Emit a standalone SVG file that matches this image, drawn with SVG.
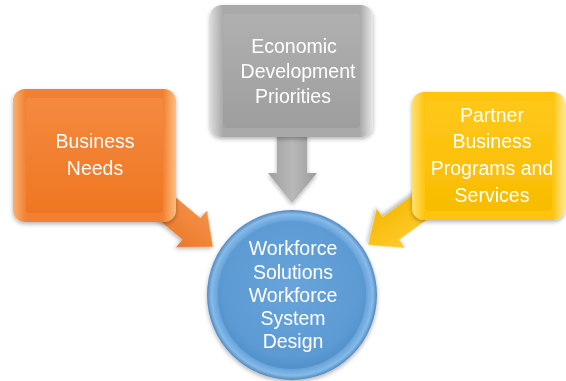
<svg xmlns="http://www.w3.org/2000/svg" width="566" height="381" viewBox="0 0 566 381">
<defs>
<style>
.t{font-family:"Liberation Sans",Arial,sans-serif;font-size:19.5px;fill:#ffffff;text-anchor:middle}
.tc{font-family:"Liberation Sans",Arial,sans-serif;font-size:19.5px;fill:#ffffff;text-anchor:middle}
</style>
<linearGradient id="gO" x1="0" y1="0" x2="0" y2="1"><stop offset="0" stop-color="#F48A40"/><stop offset="1" stop-color="#EF7622"/></linearGradient>
<linearGradient id="gOe" x1="0" y1="0" x2="1" y2="0"><stop offset="0" stop-color="#FBB070"/><stop offset="0.08" stop-color="#F28032"/><stop offset="0.92" stop-color="#F28032"/><stop offset="1" stop-color="#FBC080"/></linearGradient>
<linearGradient id="gG" x1="0" y1="0" x2="0" y2="1"><stop offset="0" stop-color="#B0B0B0"/><stop offset="1" stop-color="#9E9E9E"/></linearGradient>
<linearGradient id="gGe" x1="0" y1="0" x2="1" y2="0"><stop offset="0" stop-color="#DCDCDC"/><stop offset="0.08" stop-color="#A9A9A9"/><stop offset="0.92" stop-color="#A9A9A9"/><stop offset="1" stop-color="#E8E8E8"/></linearGradient>
<linearGradient id="gY" x1="0" y1="0" x2="0" y2="1"><stop offset="0" stop-color="#FFC81A"/><stop offset="1" stop-color="#F8BC00"/></linearGradient>
<linearGradient id="gYe" x1="0" y1="0" x2="1" y2="0"><stop offset="0" stop-color="#FFE070"/><stop offset="0.08" stop-color="#FFC410"/><stop offset="0.92" stop-color="#FFC410"/><stop offset="1" stop-color="#FFE890"/></linearGradient>
<radialGradient id="gB" cx="0.5" cy="0.45" r="0.55"><stop offset="0" stop-color="#68A4DB"/><stop offset="0.85" stop-color="#5C9AD3"/><stop offset="1" stop-color="#5290CA"/></radialGradient>
<radialGradient id="gBe" cx="0.5" cy="0.5" r="0.5"><stop offset="0.85" stop-color="#5D9CD6"/><stop offset="0.95" stop-color="#86BAE8"/><stop offset="1" stop-color="#5088C0"/></radialGradient>
<linearGradient id="aO" x1="0" y1="0" x2="0" y2="1"><stop offset="0" stop-color="#F4924A"/><stop offset="1" stop-color="#EC7828"/></linearGradient>
<linearGradient id="aG" x1="0" y1="0" x2="1" y2="0"><stop offset="0" stop-color="#A0A0A0"/><stop offset="0.5" stop-color="#B8B8B8"/><stop offset="1" stop-color="#9C9C9C"/></linearGradient>
<linearGradient id="aY" x1="0" y1="0" x2="0" y2="1"><stop offset="0" stop-color="#FFCC30"/><stop offset="1" stop-color="#F5B800"/></linearGradient>
<filter id="sh" x="-10%" y="-10%" width="120%" height="125%"><feDropShadow dx="0" dy="2" stdDeviation="2" flood-color="#000" flood-opacity="0.3"/></filter>
<path id="arr" d="M0,-14 L62,-14 L62,-24 L90,0 L62,24 L62,14 L0,14 Z"/>
</defs>
<g id="connectors">
<use href="#arr" fill="url(#aO)" transform="translate(144,189) rotate(40)" filter="url(#sh)"/>
<use href="#arr" fill="url(#aY)" transform="translate(441,192) rotate(144)" filter="url(#sh)"/>
<path d="M277,120 L307,120 L307,173 L317,173 L292,203 L268,173 L277,173 Z" fill="url(#aG)" filter="url(#sh)"/>
</g>
<g id="business-needs" filter="url(#sh)">
<rect x="13" y="89" width="163" height="133" rx="12" fill="url(#gOe)"/>
<rect x="26" y="98" width="137" height="115" rx="4" fill="url(#gO)"/>
<text class="t" x="95" y="148">Business</text>
<text class="t" x="95" y="175">Needs</text>
</g>
<g id="economic-development" filter="url(#sh)">
<rect x="210" y="5" width="163" height="132" rx="12" fill="url(#gGe)"/>
<rect x="223" y="14" width="137" height="114" rx="4" fill="url(#gG)"/>
<text class="t" x="294" y="53">Economic</text>
<text class="t" x="298" y="78">Development</text>
<text class="t" x="293" y="103">Priorities</text>
</g>
<g id="partner-business" filter="url(#sh)">
<rect x="412" y="92" width="153" height="128" rx="12" fill="url(#gYe)"/>
<rect x="425" y="101" width="127" height="110" rx="4" fill="url(#gY)"/>
<text class="t" x="492" y="122">Partner</text>
<text class="t" x="492" y="148">Business</text>
<text class="t" x="492" y="175">Programs and</text>
<text class="t" x="492" y="202">Services</text>
</g>
<g id="workforce-solutions" filter="url(#sh)">
<circle cx="292" cy="295" r="85" fill="url(#gBe)"/>
<circle cx="292" cy="295" r="74" fill="url(#gB)"/>
<text class="tc" x="293" y="255">Workforce</text>
<text class="tc" x="293" y="279">Solutions</text>
<text class="tc" x="293" y="302">Workforce</text>
<text class="tc" x="293" y="325">System</text>
<text class="tc" x="293" y="348">Design</text>
</g>
</svg>
